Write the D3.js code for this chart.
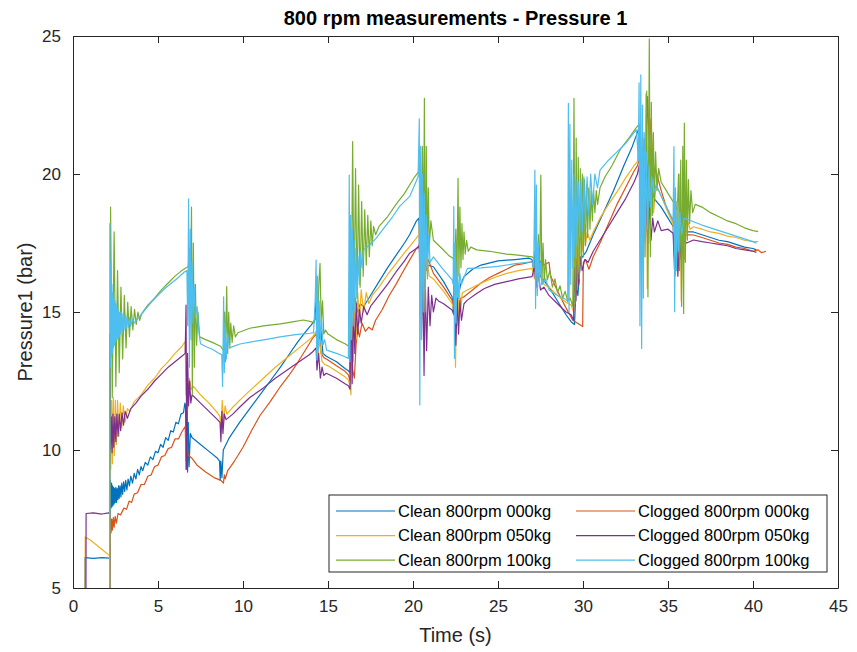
<!DOCTYPE html>
<html>
<head>
<meta charset="utf-8">
<style>
body { margin: 0; background: #fff; }
svg { display: block; font-family: "Liberation Sans", Arial, Helvetica, sans-serif; }
.axis path, .axis line { stroke: #262626; }
.axis text { fill: #262626; font-size: 17px; }
.series { fill: none; stroke-width: 1.2; stroke-linejoin: round; }
</style>
</head>
<body>
<svg width="857" height="652"></svg>
<script src="https://d3js.org/d3.v7.min.js"></script>
<script>
// tick values
var xTicks = [0, 5, 10, 15, 20, 25, 30, 35, 40, 45];
var yTicks = [5, 10, 15, 20, 25];

var seriesNames = ["Clean 800rpm 000kg", "Clogged 800rpm 000kg", "Clean 800rpm 050kg",
                   "Clogged 800rpm 050kg", "Clean 800rpm 100kg", "Clogged 800rpm 100kg"];
var seriesColors = ["#0072BD", "#D95319", "#EDB120", "#7E2F8E", "#77AC30", "#4DBEEE"];

// [time (s), pressure (bar)]
var clean000 = [[0.70,1],[0.71,6.1],[1.2,6.07],[1.7,6.1],[2.16,6.08],[2.2,8.9],[2.24,7.9],[2.27,8.8],[2.3,7.95],
  [2.33,8.7],[2.36,8.0],[2.39,8.65],[2.42,8.05],[2.45,8.6],[2.48,8.1],[2.52,8.65],[2.56,8.1],[2.6,8.6],[2.64,8.2],
  [2.68,8.7],[2.72,8.25],[2.77,8.7],[2.82,8.3],[2.87,8.8],[2.92,8.4],[2.98,8.85],[3.04,8.5],[3.1,8.9],[3.17,8.55],
  [3.24,8.95],[3.32,8.7],[3.4,9.05],[3.5,8.8],[3.6,9.15],[3.7,8.95],[3.8,9.3],[3.9,9.1],[4.0,9.4],[4.1,9.25],
  [4.25,9.55],[4.4,9.45],[4.55,9.75],[4.7,9.65],[4.85,9.95],[5.0,9.9],[5.15,10.2],[5.3,10.1],[5.45,10.45],
  [5.6,10.35],[5.75,10.7],[5.9,10.65],[6.05,11.0],[6.2,10.95],[6.35,11.3],[6.5,11.35],[6.58,11.7],[6.62,11.6],
  [6.65,9.3],[6.7,11.4],[6.74,9.2],[6.78,11.0],[6.83,9.4],[6.9,10.6],[7.0,10.45],[7.5,10.2],
  [8.0,9.95],[8.5,9.7],[8.62,9.6],[8.66,8.9],[8.7,9.6],[8.76,9.0],[8.84,10.0],[9.2,10.45],[9.8,11.0],[10.4,11.5],
  [11.0,12.0],[11.6,12.5],[12.2,13.0],[12.7,13.45],[13.2,13.9],[13.7,14.3],[14.1,14.6],[14.25,14.75],[14.3,15.6],
  [14.35,14.2],[14.42,15.2],[14.5,13.9],[14.6,14.3],[14.7,13.5],[14.9,13.4],[15.5,13.2],[16.0,12.95],[16.2,12.87],
  [16.28,12.8],[16.33,14.6],[16.4,15.4],[16.5,14.9],[16.6,15.5],[16.75,15.0],[16.9,15.3],[17.1,15.2],[17.5,15.6],
  [18.0,16.1],[18.5,16.6],[19.0,17.05],[19.5,17.5],[19.8,17.8],[20.2,18.3],[20.35,18.4],[20.4,16.2],[20.45,19.5],
  [20.5,15.8],[20.58,18.0],[20.65,16.3],[20.75,17.4],[20.85,16.7],[21.2,16.64],[21.8,16.1],[22.3,15.55],[22.38,15.0],
  [22.42,16.7],[22.48,14.9],[22.55,16.2],[22.65,15.5],[22.8,16.0],[23.0,16.28],[23.5,16.55],[24.0,16.7],[25.0,16.85],
  [26.0,16.9],[26.8,16.95],[27.0,16.9],[27.1,16.5],[27.18,17.2],[27.25,16.2],[27.35,16.7],[27.5,16.3],[28.0,15.9],
  [28.5,15.4],[29.0,14.9],[29.3,14.65],[29.5,14.55],[29.6,16.0],[29.7,15.6],[29.85,16.9],[30.2,17.2],[30.6,17.8],
  [31.2,18.6],[31.8,19.4],[32.4,20.3],[32.9,21.0],[33.2,21.5],[33.3,21.7],[33.4,19.6],[33.5,21.3],[33.6,19.0],
  [33.7,20.8],[33.85,19.5],[34.0,19.6],[34.2,19.1],[34.6,18.8],[35.0,18.4],[35.3,18.1],[35.38,17.0],[35.45,18.3],
  [35.55,16.9],[35.65,18.0],[35.8,17.3],[36.0,17.9],[36.5,17.9],[37.0,17.8],[37.5,17.7],[38.0,17.6],[38.5,17.55],
  [39.0,17.45],[39.5,17.35],[40.0,17.3],[40.2,17.25]];

var clogged000 = [[2.17,1],[2.2,7.6],[2.24,7.0],[2.28,7.5],[2.32,7.1],[2.37,7.55],[2.42,7.2],[2.48,7.6],[2.55,7.35],
  [2.65,7.7],[2.8,7.65],[3.0,7.9],[3.15,7.85],[3.3,8.15],[3.45,8.1],[3.6,8.4],[3.8,8.45],[4.0,8.75],[4.2,8.75],
  [4.4,9.05],[4.6,9.1],[4.8,9.4],[5.0,9.45],[5.2,9.75],[5.4,9.8],[5.6,10.05],[5.8,10.1],[6.0,10.4],[6.2,10.4],
  [6.4,10.65],[6.6,10.85],[6.65,9.6],[6.7,10.5],[6.75,9.9],[6.8,9.8],[7.0,9.7],[7.3,9.45],[7.8,9.2],
  [8.3,9.0],[8.7,8.9],[8.85,8.8],[8.9,9.1],[8.95,8.95],[9.1,9.25],[9.5,9.6],[10.0,10.1],[10.5,10.7],[11.0,11.25],
  [11.6,11.75],[12.2,12.3],[12.7,12.7],[13.2,13.15],[13.7,13.65],[14.1,14.05],[14.3,14.2],[14.4,13.7],[14.5,14.3],
  [14.6,13.5],[14.75,13.35],[15.0,13.26],[15.5,13.05],[16.0,12.85],[16.2,12.72],[16.3,12.5],[16.35,14.2],[16.45,12.9],
  [16.55,12.6],[16.65,13.8],[16.75,14.4],[16.85,14.1],[17.0,14.6],[17.2,14.3],[17.4,14.45],[17.6,14.35],[17.8,14.7],
  [18.2,15.1],[18.6,15.6],[19.0,16.0],[19.4,16.45],[19.8,16.88],[20.2,17.3],[20.35,17.4],[20.45,16.8],[20.5,18.1],
  [20.58,16.3],[20.68,17.5],[20.78,16.5],[20.9,16.9],[21.2,16.4],[21.8,15.9],[22.3,15.43],[22.4,15.2],[22.45,16.0],
  [22.52,14.8],[22.6,15.7],[22.7,15.0],[22.8,15.5],[23.0,15.55],[23.5,15.8],[24.0,16.05],[24.5,16.25],[25.0,16.4],
  [25.5,16.55],[26.0,16.7],[26.5,16.75],[27.0,16.82],[27.2,16.6],[27.4,16.9],[27.7,16.7],[28.0,16.8],[28.1,16.3],
  [28.5,15.75],[29.0,15.15],[29.4,14.7],[29.8,14.55],[29.98,14.47],[30.02,16.8],[30.15,16.9],[30.35,16.55],
  [30.6,17.0],[31.0,17.5],[31.5,18.2],[32.0,18.9],[32.5,19.5],[33.0,20.1],[33.2,20.3],[33.35,20.6],[33.5,19.8],
  [33.6,21.3],[33.7,20.5],[33.8,22.8],[33.9,21.0],[34.0,22.0],[34.1,20.3],[34.3,20.1],[34.6,19.4],[34.9,18.8],
  [35.3,18.3],[35.4,17.6],[35.5,18.5],[35.6,17.2],[35.7,18.0],[35.85,17.4],[36.0,17.8],[36.5,17.79],[37.0,17.7],
  [37.5,17.6],[38.0,17.5],[38.5,17.45],[39.0,17.35],[39.5,17.3],[40.0,17.2],[40.3,17.25],[40.5,17.15],[40.76,17.2]];

var clean050 = [[0.70,1],[0.72,6.85],[1.0,6.75],[1.4,6.55],[1.8,6.35],[2.1,6.2],[2.15,6.2],[2.18,13.8],[2.22,9.3],
  [2.27,11.8],[2.32,9.5],[2.37,11.9],[2.43,9.8],[2.49,11.8],[2.55,10.2],[2.62,11.8],[2.7,10.5],[2.78,11.7],
  [2.87,10.8],[2.96,11.6],[3.06,11.0],[3.2,11.5],[3.35,11.4],[3.6,11.75],[4.0,12.0],[4.4,12.35],[4.8,12.6],
  [5.2,12.95],[5.6,13.2],[6.0,13.5],[6.4,13.75],[6.6,13.93],[6.65,12.0],[6.7,13.2],[6.75,11.5],[6.85,12.6],
  [6.95,12.2],[7.1,12.3],[7.5,12.0],[8.0,11.7],[8.5,11.35],[8.65,11.2],[8.7,10.7],[8.78,11.8],[8.85,11.0],
  [8.95,11.6],[9.05,11.3],[9.4,11.55],[9.8,11.8],[10.4,12.15],[11.2,12.6],[11.9,13.0],[12.6,13.35],[13.3,13.7],
  [13.9,14.0],[14.1,14.1],[14.3,14.3],[14.4,13.3],[14.5,14.0],[14.65,13.2],[14.8,13.1],[15.0,13.05],[15.5,12.85],
  [16.0,12.65],[16.2,12.54],[16.3,12.3],[16.35,12.0],[16.4,15.0],[16.48,13.2],[16.55,15.8],[16.65,14.0],
  [16.75,15.7],[16.85,14.6],[16.95,15.8],[17.1,15.0],[17.25,15.7],[17.4,15.3],[17.6,15.6],[18.0,15.9],[18.5,16.35],
  [19.0,16.75],[19.5,17.15],[19.8,17.37],[20.2,17.68],[20.35,17.8],[20.45,19.2],[20.5,15.5],[20.6,18.0],
  [20.7,15.9],[20.8,17.1],[20.95,16.3],[21.2,16.2],[21.8,15.75],[22.3,15.3],[22.4,15.1],[22.45,16.5],[22.5,13.0],
  [22.58,16.2],[22.65,14.5],[22.72,15.9],[22.8,15.0],[22.9,15.7],[23.2,15.8],[23.7,15.95],[24.2,16.1],[24.8,16.25],
  [25.5,16.4],[26.2,16.5],[27.0,16.58],[27.15,16.2],[27.25,16.9],[27.35,16.1],[27.5,16.5],[27.7,16.0],[28.0,15.9],
  [28.5,15.6],[29.0,15.35],[29.3,15.25],[29.45,15.0],[29.5,17.5],[29.58,15.6],[29.66,18.0],[29.75,16.5],
  [29.85,18.1],[29.95,17.2],[30.05,18.2],[30.15,17.4],[30.25,17.9],[30.4,17.6],[30.6,17.9],[31.0,18.4],[31.5,18.9],
  [32.0,19.35],[32.5,19.85],[33.0,20.3],[33.2,20.45],[33.3,21.0],[33.4,18.5],[33.5,21.5],[33.6,17.0],[33.7,22.9],
  [33.78,15.85],[33.85,21.0],[33.95,17.5],[34.05,20.2],[34.15,18.6],[34.3,19.6],[34.6,19.2],[35.0,18.6],
  [35.3,18.2],[35.4,17.2],[35.5,19.0],[35.6,16.5],[35.7,20.0],[35.78,15.4],[35.88,19.0],[35.98,16.9],[36.1,18.4],
  [36.3,18.0],[36.5,18.09],[37.0,18.0],[37.5,17.9],[38.0,17.85],[38.5,17.75],[39.0,17.7],[39.5,17.6],[40.0,17.55],
  [40.3,17.55]];

var clogged050 = [[0.75,1],[0.77,7.7],[1.2,7.72],[1.7,7.68],[2.1,7.72],[2.15,7.7],[2.17,14.2],[2.2,10.0],
  [2.25,11.2],[2.3,9.9],[2.35,11.3],[2.4,10.1],[2.46,11.2],[2.52,10.3],[2.58,11.3],[2.65,10.5],[2.72,11.3],
  [2.8,10.7],[2.88,11.35],[2.97,10.9],[3.07,11.4],[3.2,11.15],[3.4,11.5],[3.7,11.7],[4.0,11.95],[4.4,12.2],
  [4.8,12.5],[5.2,12.75],[5.6,13.0],[6.0,13.2],[6.4,13.4],[6.6,13.5],[6.65,15.25],[6.69,9.3],[6.74,13.5],
  [6.8,11.6],[6.86,12.5],[6.93,11.7],[7.0,12.0],[7.5,11.7],[8.0,11.4],[8.5,11.1],[8.65,11.0],[8.7,10.3],
  [8.76,11.4],[8.82,10.6],[8.9,11.3],[9.0,11.1],[9.4,11.3],[9.8,11.55],[10.4,11.9],[11.2,12.25],[11.9,12.6],
  [12.6,12.9],[13.3,13.2],[13.9,13.45],[14.1,13.56],[14.3,13.7],[14.35,12.9],[14.45,13.5],[14.55,12.6],
  [14.65,13.0],[14.75,12.7],[14.9,12.78],[15.5,12.6],[16.0,12.4],[16.2,12.33],[16.3,12.2],[16.35,16.3],
  [16.42,12.4],[16.5,15.0],[16.58,13.5],[16.66,15.3],[16.75,14.2],[16.85,15.1],[16.95,14.6],[17.1,15.2],
  [17.3,14.9],[17.5,15.2],[18.0,15.6],[18.5,16.0],[19.0,16.45],[19.5,16.85],[19.8,17.13],[20.2,17.3],[20.35,17.35],
  [20.45,17.8],[20.5,14.0],[20.58,16.8],[20.65,12.7],[20.72,16.2],[20.8,13.6],[20.9,15.9],[21.0,14.5],[21.1,15.6],
  [21.2,15.0],[21.35,15.5],[21.5,15.4],[21.8,15.3],[22.3,15.07],[22.4,14.9],[22.45,15.8],[22.52,13.8],[22.6,15.5],
  [22.68,14.2],[22.76,15.4],[22.85,14.7],[23.0,15.3],[23.2,15.43],[23.7,15.65],[24.2,15.85],[24.8,16.0],
  [25.5,16.1],[26.2,16.2],[27.0,16.28],[27.15,16.6],[27.25,15.9],[27.35,16.5],[27.5,15.8],[27.7,15.9],[28.0,15.6],
  [28.5,15.3],[29.0,15.0],[29.3,14.9],[29.45,14.7],[29.5,16.6],[29.58,15.4],[29.66,16.9],[29.75,16.0],
  [29.85,17.0],[29.95,16.5],[30.1,16.9],[30.3,16.8],[30.6,17.2],[31.0,17.6],[31.5,18.1],[32.0,18.6],[32.5,19.1],
  [33.0,19.7],[33.2,20.0],[33.3,20.3],[33.4,18.8],[33.5,20.6],[33.6,17.7],[33.7,20.0],[33.8,17.5],[33.9,19.0],
  [34.0,17.6],[34.1,18.4],[34.2,17.9],[34.4,18.3],[34.6,17.95],[35.0,18.0],[35.3,17.85],[35.4,16.3],[35.5,17.9],
  [35.58,16.3],[35.68,17.7],[35.78,16.9],[35.9,17.6],[36.1,17.5],[36.5,17.61],[37.0,17.55],[37.5,17.5],
  [38.0,17.45],[38.5,17.4],[39.0,17.3],[39.5,17.25],[40.0,17.2],[40.2,17.16]];

var clean100 = [[2.15,1],[2.18,12.0],[2.21,18.8],[2.31,11.9],[2.42,17.9],[2.52,12.3],[2.62,16.5],[2.72,12.8],
  [2.82,15.9],[2.92,13.3],[3.02,15.6],[3.12,13.7],[3.22,15.35],[3.32,14.1],[3.42,15.2],[3.52,14.35],[3.62,15.1],
  [3.72,14.55],[3.82,15.0],[3.92,14.7],[4.05,14.95],[4.4,15.25],
  [4.8,15.5],[5.2,15.8],[5.6,16.05],[6.0,16.3],[6.4,16.5],[6.78,16.65],[6.85,17.3],[6.9,15.0],[6.97,18.8],
  [7.02,12.0],[7.08,17.5],[7.14,13.0],[7.2,16.0],[7.27,13.8],[7.35,15.0],[7.45,14.1],[7.8,14.0],[8.2,13.9],
  [8.7,13.75],[8.85,13.6],[8.92,15.0],[8.97,13.2],[9.04,15.92],[9.1,13.5],[9.16,15.0],[9.22,13.7],[9.28,14.6],
  [9.36,13.9],[9.45,14.5],[9.55,14.1],[9.7,14.25],[10.4,14.41],[11.2,14.5],[12.2,14.57],[13.0,14.65],[13.55,14.71],
  [14.0,14.65],[14.2,14.6],[14.3,15.0],[14.38,14.2],[14.46,16.0],[14.53,16.76],[14.6,14.6],[14.68,15.4],
  [14.75,14.2],[14.85,14.35],[15.0,14.2],[15.5,14.0],[16.0,13.85],[16.2,13.77],[16.3,14.0],[16.38,16.0],
  [16.45,21.17],[16.53,15.2],[16.62,20.2],[16.71,15.5],[16.8,19.6],[16.89,15.9],[16.98,19.0],[17.07,16.3],
  [17.16,18.7],[17.25,16.7],[17.34,18.5],[17.43,17.0],[17.52,18.3],[17.6,17.4],[17.68,18.1],[17.8,17.8],
  [18.0,18.1],[18.5,18.45],[19.0,18.9],[19.5,19.3],[19.8,19.6],[20.1,19.9],[20.4,20.14],
  [20.48,18.5],[20.55,21.0],[20.62,17.6],[20.67,22.74],[20.72,15.0],[20.78,21.0],[20.84,17.0],[20.9,19.5],
  [20.96,17.4],[21.05,18.3],[21.2,17.6],[21.7,17.3],[22.1,17.05],[22.37,16.94],[22.45,16.5],[22.52,18.0],
  [22.58,16.0],[22.65,19.84],[22.7,16.3],[22.76,18.8],[22.82,16.6],[22.88,18.2],[22.94,16.9],[23.0,17.9],
  [23.07,17.1],[23.15,17.6],[23.25,17.2],[23.4,17.35],[23.75,17.25],[24.5,17.2],[25.5,17.1],[26.3,17.05],
  [27.0,17.0],[27.2,16.9],[27.3,16.4],[27.38,17.8],[27.45,16.2],[27.52,19.96],[27.58,16.0],[27.65,17.5],
  [27.72,16.1],[27.8,16.9],[27.9,16.16],[28.05,16.5],[28.2,15.9],[28.35,16.2],[28.5,15.7],[28.65,15.95],
  [28.8,15.5],[28.95,15.75],[29.1,15.4],[29.25,15.5],[29.4,15.2],[29.47,22.74],[29.53,15.3],[29.6,21.3],
  [29.66,15.8],[29.72,20.6],[29.78,16.2],[29.84,20.2],[29.9,16.6],[29.96,20.0],[30.02,17.0],[30.08,19.8],
  [30.14,17.4],[30.2,19.6],[30.27,17.7],[30.34,19.5],[30.41,18.0],[30.48,19.4],[30.55,18.3],[30.62,19.4],
  [30.7,18.6],[30.78,19.4],[30.86,18.9],[31.0,19.5],[31.3,19.9],[31.7,20.3],[32.2,20.9],[32.7,21.3],[33.1,21.65],
  [33.3,21.8],[33.45,19.5],[33.55,21.0],[33.65,17.5],[33.75,23.0],[33.82,15.55],[33.9,24.9],[33.96,17.0],
  [34.02,22.6],[34.08,18.5],[34.14,21.5],[34.2,19.0],[34.27,20.8],[34.35,19.4],[34.45,20.2],[34.6,19.7],
  [35.0,19.3],[35.4,18.9],[35.55,18.7],[35.62,20.0],[35.68,16.5],[35.75,20.5],[35.8,15.2],[35.87,21.0],
  [35.92,14.95],[35.96,21.84],[36.02,16.8],[36.08,20.5],[36.14,17.6],[36.2,19.8],[36.27,18.2],[36.35,19.4],
  [36.45,18.6],[36.6,18.9],[37.0,18.8],[37.5,18.6],[38.0,18.45],[38.5,18.3],[39.0,18.2],[39.5,18.05],[40.0,17.95],
  [40.3,17.91]];

var clogged100 = [[2.15,1],[2.17,18.2],[2.2,13.0],[2.23,16.8],[2.26,13.4],[2.29,16.0],[2.32,13.5],[2.35,15.7],
  [2.38,13.7],[2.41,15.5],[2.44,13.8],[2.47,15.4],[2.5,13.9],[2.53,15.3],[2.56,14.0],[2.6,15.2],[2.64,14.0],
  [2.68,15.1],[2.72,14.1],[2.76,15.0],[2.8,14.2],[2.85,15.0],[2.9,14.3],[2.95,14.95],[3.0,14.35],[3.06,14.9],
  [3.12,14.4],[3.18,14.85],[3.25,14.45],[3.32,14.8],[3.4,14.5],[3.5,14.75],[3.6,14.6],[3.8,14.75],[4.2,15.05],
  [4.6,15.35],[5.0,15.6],[5.4,15.85],
  [5.8,16.05],[6.2,16.25],[6.55,16.45],[6.7,16.5],[6.75,14.5],[6.8,19.1],[6.85,13.0],[6.9,18.0],[6.95,14.0],
  [7.0,16.8],[7.06,14.6],[7.12,16.0],[7.2,14.8],[7.3,15.2],[7.4,14.3],[7.5,13.85],[7.8,13.75],[8.2,13.65],
  [8.6,13.5],[8.75,13.45],[8.8,12.3],[8.86,15.55],[8.9,12.8],[8.96,14.6],[9.02,13.3],[9.1,14.2],[9.2,13.7],
  [9.82,13.84],[10.5,13.92],[11.3,14.0],[12.18,14.1],[13.1,14.18],[13.94,14.23],[14.15,14.25],[14.25,15.5],
  [14.3,16.88],[14.34,13.26],[14.38,16.3],[14.43,13.6],[14.48,15.4],[14.55,13.9],[14.62,14.8],[14.7,13.8],
  [14.8,14.0],[14.92,13.62],[15.5,13.5],[16.0,13.38],[16.2,13.32],[16.25,19.96],[16.29,13.2],[16.33,18.5],
  [16.38,14.0],[16.43,18.0],[16.48,14.5],[16.53,17.6],[16.58,15.0],[16.64,17.3],[16.7,15.5],[16.77,17.0],
  [16.84,16.0],[16.92,17.2],[17.0,16.6],[17.1,17.25],[17.4,17.4],[17.8,17.65],[18.3,18.05],[18.8,18.45],
  [19.2,18.82],[19.82,19.2],[20.3,19.9],[20.37,22.0],[20.4,11.63],[20.45,21.0],[20.5,14.0],[20.55,20.0],
  [20.6,15.0],[20.66,19.3],[20.72,15.8],[20.78,18.5],[20.85,16.2],[20.92,17.8],[21.0,16.8],[21.2,17.0],
  [21.7,16.6],[22.3,16.16],[22.36,16.0],[22.4,18.82],[22.44,13.32],[22.48,17.5],[22.53,14.6],[22.6,16.8],
  [22.67,15.5],[22.75,16.4],[22.85,16.0],[23.2,16.58],[24.0,16.6],[25.0,16.65],[26.0,16.75],[27.0,16.82],
  [27.1,16.6],[27.17,20.14],[27.21,15.13],[27.26,19.6],[27.31,15.6],[27.37,17.5],[27.43,15.9],[27.5,16.8],
  [27.6,16.0],[27.8,16.2],[28.0,15.8],[28.5,15.6],[29.0,15.45],[29.1,15.37],[29.14,22.56],[29.18,15.0],
  [29.23,21.8],[29.28,16.0],[29.34,20.5],[29.4,16.6],[29.46,20.0],[29.52,17.0],[29.58,19.8],[29.65,17.4],
  [29.72,19.7],[29.8,17.7],[29.88,19.8],[29.96,17.9],[30.05,19.9],[30.14,18.2],[30.24,19.9],[30.34,18.5],
  [30.45,20.0],[30.56,18.9],[30.7,20.0],[30.85,19.5],[31.0,20.14],[31.5,20.5],[32.0,20.8],[32.5,21.1],[33.0,21.5],
  [33.15,21.6],[33.25,20.5],[33.3,23.3],[33.35,14.5],[33.4,23.59],[33.45,13.68],[33.5,22.5],[33.55,15.5],
  [33.6,21.5],[33.66,17.0],[33.72,20.8],[33.8,18.0],[33.88,20.3],[33.96,18.8],[34.05,19.9],[34.15,19.3],
  [34.3,19.6],[34.6,19.2],[35.0,18.7],[35.3,18.33],[35.35,20.99],[35.39,15.01],[35.44,19.5],[35.5,16.5],
  [35.56,19.0],[35.62,17.2],[35.7,18.6],[35.8,17.8],[35.95,18.4],[36.5,18.27],[37.0,18.15],[37.5,18.05],
  [38.0,17.95],[38.5,17.85],[39.0,17.75],[39.5,17.65],[40.0,17.55],[40.2,17.49]];

var allSeries = [clean000, clogged000, clean050, clogged050, clean100, clogged100];

var svg = d3.select("svg"),
    margin = {top: 36, right: 19, bottom: 64, left: 73},
    width = +svg.attr("width") - margin.left - margin.right,
    height = +svg.attr("height") - margin.top - margin.bottom;

var x = d3.scaleLinear().domain([0, 45]).range([0, width]);
var y = d3.scaleLinear().domain([5, 25]).range([height, 0]);

var g = svg.append("g").attr("transform", "translate(" + margin.left + "," + margin.top + ")");

g.append("defs").append("clipPath").attr("id", "plotclip")
  .append("rect").attr("width", width).attr("height", height);

var line = d3.line()
    .x(function(d) { return x(d[0]); })
    .y(function(d) { return y(d[1]); });

g.append("g").attr("clip-path", "url(#plotclip)")
  .selectAll("path")
  .data(allSeries)
  .enter().append("path")
    .attr("class", "series")
    .attr("stroke", function(d, i) { return seriesColors[i]; })
    .attr("d", line);

// axes, matlab style: box with inward ticks on all four sides
var tk = 7;
g.append("g").attr("class", "axis")
  .attr("transform", "translate(0," + height + ")")
  .call(d3.axisBottom(x).tickValues(xTicks).tickSize(-tk).tickPadding(12).tickSizeOuter(0));
g.append("g").attr("class", "axis")
  .call(d3.axisTop(x).tickValues(xTicks).tickSize(-tk).tickFormat("").tickSizeOuter(0));
g.append("g").attr("class", "axis")
  .call(d3.axisLeft(y).tickValues(yTicks).tickSize(-tk).tickPadding(12).tickSizeOuter(0));
g.append("g").attr("class", "axis")
  .attr("transform", "translate(" + width + ",0)")
  .call(d3.axisRight(y).tickValues(yTicks).tickSize(-tk).tickFormat("").tickSizeOuter(0));
g.selectAll(".axis .domain").attr("stroke-width", 1);

// title and labels
svg.append("text")
  .attr("x", margin.left + width / 2).attr("y", 25)
  .attr("text-anchor", "middle")
  .style("font-size", "20px").style("font-weight", "bold").attr("fill", "#000")
  .text("800 rpm measurements - Pressure 1");

svg.append("text")
  .attr("x", margin.left + width / 2).attr("y", 642)
  .attr("text-anchor", "middle")
  .style("font-size", "20px").attr("fill", "#262626")
  .text("Time (s)");

svg.append("text")
  .attr("transform", "translate(32," + (margin.top + height / 2) + ") rotate(-90)")
  .attr("text-anchor", "middle")
  .style("font-size", "20px").attr("fill", "#262626")
  .text("Pressure1 (bar)");

// legend, 2 columns, filled row by row
var lg = g.append("g").attr("transform", "translate(" + (width - 509) + "," + (height - 93) + ")");
lg.append("rect").attr("width", 498).attr("height", 77)
  .attr("fill", "#fff").attr("stroke", "#262626").attr("stroke-width", 1);
var item = lg.selectAll(".item").data(seriesNames).enter().append("g")
  .attr("transform", function(d, i) {
    return "translate(" + (7 + (i % 2) * 240) + "," + (16 + Math.floor(i / 2) * 24.6) + ")";
  });
item.append("line").attr("x1", 0).attr("x2", 59)
  .attr("stroke", function(d, i) { return seriesColors[i]; }).attr("stroke-width", 1.2);
item.append("text").attr("x", 62).attr("dy", "0.35em")
  .style("font-size", "16.5px").attr("fill", "#000")
  .text(function(d) { return d; });
</script>
</body>
</html>
